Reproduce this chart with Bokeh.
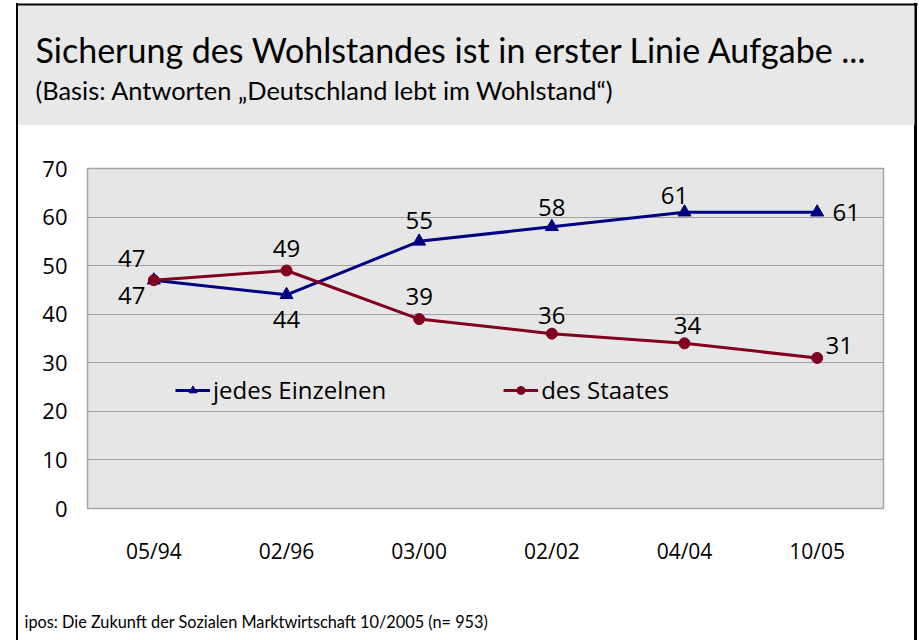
from bokeh.plotting import figure
from bokeh.layouts import column
from bokeh.models import Range1d, Legend, LegendItem, ColumnDataSource
from bokeh.core.properties import value
from bokeh.embed import file_html
from bokeh.resources import INLINE

# ---- data ----
periods = ["05/94", "02/96", "03/00", "02/02", "04/04", "10/05"]
einzelnen = [47, 44, 55, 58, 61, 61]
staat = [47, 49, 39, 36, 34, 31]
y_ticks = [0, 10, 20, 30, 40, 50, 60, 70]

title = "Sicherung des Wohlstandes ist in erster Linie Aufgabe ..."
subtitle = "(Basis: Antworten \u201eDeutschland lebt im Wohlstand\u201c)"
footer = "ipos: Die Zukunft der Sozialen Marktwirtschaft 10/2005 (n= 953)"
name_e = "jedes Einzelnen"
name_s = "des Staates"

# ---- styles ----
BLUE = "#000080"
RED = "#800020"
W, H = 919, 640
HEAD_H, FOOT_H = 125, 40
FL, FR, FT, FB = 87, 883, 168, 508  # chart frame edges (page px)

# data-label offsets (screen px: dx right, dy down)
off_e = [(-22, 15), (0, 25), (0, -21), (0, -19), (-10, -17), (29, 0)]
off_s = [(-22, -22), (0, -22), (0, -23), (0, -18), (3, -18), (22, -12)]


def no_align(f):
    if "frame_align" in f.properties():
        f.frame_align = False


def blank_fig(h):
    f = figure(width=W, height=h, x_range=Range1d(0, W), y_range=Range1d(h, 0),
               output_backend="svg", toolbar_location=None, min_border=0,
               min_border_left=0, min_border_right=0,
               min_border_top=0, min_border_bottom=0,
               x_axis_location=None, y_axis_location=None)
    for g in f.grid:
        g.visible = False
    f.outline_line_color = None
    f.background_fill_color = None
    f.border_fill_color = None
    no_align(f)
    return f


# ---- header ----
head = blank_fig(HEAD_H)
head.quad(left=[18], right=[914], top=[5], bottom=[HEAD_H], fill_color="#e8e8e8",
          line_color=None)
head.quad(left=[16], right=[917], top=[3], bottom=[5], fill_color="black",
          line_color=None)
head.text(x=[35], y=[49], text=[title], text_font=value("Lato"),
          text_font_size="34px", text_baseline="alphabetic", text_align="left",
          text_color="black")
head.text(x=[35], y=[89], text=[subtitle], text_font=value("Lato"),
          text_font_size="25.4px", text_baseline="alphabetic", text_align="left",
          text_color="black")

# ---- main chart ----
MAIN_H = H - HEAD_H - FOOT_H
p = figure(width=W, height=MAIN_H, x_range=periods, y_range=Range1d(0, 70),
           output_backend="svg", toolbar_location=None,
           min_border_left=FL, min_border_right=W - FR,
           min_border_top=FT - HEAD_H, min_border_bottom=HEAD_H + MAIN_H - FB)
no_align(p)
p.background_fill_color = "#e6e6e6"
p.border_fill_color = None
p.outline_line_color = "#a6a6a6"
p.outline_line_width = 1.5

p.xgrid.grid_line_color = None
p.ygrid.grid_line_color = "#a0a0a0"
p.ygrid.grid_line_width = 1
p.yaxis.ticker = y_ticks

for ax in (p.xaxis[0], p.yaxis[0]):
    ax.axis_line_color = None
    ax.major_tick_line_color = None
    ax.minor_tick_line_color = None
    ax.major_tick_out = 0
    ax.major_tick_in = 0
    ax.major_label_text_font = "Open Sans"
    ax.major_label_text_color = "black"
p.xaxis.major_label_text_font_size = "21px"
p.yaxis.major_label_text_font_size = "22px"
p.yaxis.major_label_standoff = 20
p.xaxis.major_label_standoff = 28

le = p.line(periods, einzelnen, line_color=BLUE, line_width=3)
me = p.scatter(periods, einzelnen, marker="triangle", size=13,
               fill_color=BLUE, line_color=BLUE)
ls = p.line(periods, staat, line_color=RED, line_width=3)
ms = p.scatter(periods, staat, marker="circle", size=11,
               fill_color=RED, line_color=RED)

for vals, offs in ((einzelnen, off_e), (staat, off_s)):
    src = ColumnDataSource(dict(x=periods, y=vals, t=[str(v) for v in vals],
                                dx=[o[0] for o in offs], dy=[o[1] for o in offs]))
    p.text(x="x", y="y", text="t", x_offset="dx", y_offset="dy", source=src,
           text_font=value("Open Sans"), text_font_size="24px",
           text_align="center", text_baseline="middle", text_color="black")

legend = Legend(items=[LegendItem(label=name_e, renderers=[le, me]),
                       LegendItem(label=name_s, renderers=[ls, ms])],
                location=(175 - FL, 102), orientation="horizontal",
                background_fill_alpha=0, border_line_color=None,
                padding=0, spacing=117, glyph_width=35, glyph_height=20,
                label_standoff=3, label_text_font="Open Sans",
                label_text_font_size="24px", label_text_color="black",
                label_height=20)
p.add_layout(legend, "center")

# ---- footer ----
foot = blank_fig(FOOT_H)
foot.text(x=[24], y=[621 - (H - FOOT_H)], text=[footer], text_font=value("Lato"),
          text_font_size="16.3px", text_baseline="alphabetic", text_align="left",
          text_color="black")

frame_css = ("linear-gradient(#000,#000) 16px 3px/2px 637px no-repeat, "
             "linear-gradient(#000,#000) 914px 3px/3px 637px no-repeat, #ffffff")
layout = column(head, p, foot, spacing=0, styles={"background": frame_css})

open("out.html", "w").write(file_html(layout, INLINE))
